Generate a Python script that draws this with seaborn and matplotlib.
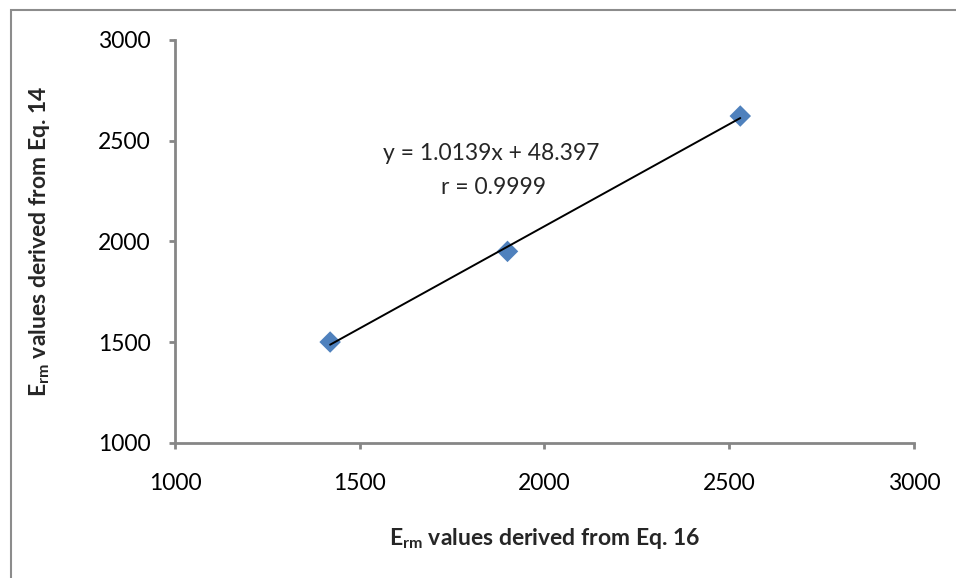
import numpy as np
import matplotlib
matplotlib.use("Agg")
import matplotlib.pyplot as plt
import seaborn as sns
from matplotlib.patches import Rectangle

# DATA
erm_eq16 = [1420, 1900, 2530]
erm_eq14 = [1500, 1950, 2622]
x_ticks = [1000, 1500, 2000, 2500, 3000]
y_ticks = [1000, 1500, 2000, 2500, 3000]
eq_text = "y = 1.0139x + 48.397"
r_text = "r = 0.9999"

sns.set_style("white")
plt.rcParams["font.family"] = ["Lato", "DejaVu Sans"]
plt.rcParams["mathtext.fontset"] = "custom"
plt.rcParams["mathtext.rm"] = "Lato"
plt.rcParams["mathtext.bf"] = "Lato:bold"

axis_gray = "#868686"

fig = plt.figure(figsize=(9.56, 5.78), dpi=100)
ax = fig.add_axes([0.183, 0.234, 0.773, 0.697])

# scatter + linear trendline
sns.regplot(x=erm_eq16, y=erm_eq14, ci=None, marker="D", ax=ax,
            scatter_kws={"s": 120, "color": "#4F81BD", "edgecolors": "none", "alpha": 1},
            line_kws={"color": "black", "linewidth": 1.4})

ax.set_xlim(1000, 3000)
ax.set_ylim(1000, 3000)
ax.set_xticks(x_ticks)
ax.set_yticks(y_ticks)

for side in ["top", "right"]:
    ax.spines[side].set_visible(False)
for side in ["left", "bottom"]:
    ax.spines[side].set_color(axis_gray)
    ax.spines[side].set_linewidth(2)

ax.tick_params(axis="both", bottom=True, left=True, direction="out", length=4.5,
               width=2, color=axis_gray, labelsize=16.5, labelcolor="black")
ax.tick_params(axis="x", pad=17)
ax.tick_params(axis="y", pad=13)

ax.set_xlabel(r"$\mathbf{E}_{\mathbf{rm}}$ values derived from Eq. 16",
              fontsize=16.5, fontweight="bold", labelpad=23)
ax.set_ylabel(r"$\mathbf{E}_{\mathbf{rm}}$ values derived from Eq. 14",
              fontsize=16.5, fontweight="bold", labelpad=33)

# trendline equation
ax.text(1855, 2434, eq_text, fontsize=16.5, ha="center", va="center")
ax.text(1862, 2265, r_text, fontsize=16.5, ha="center", va="center")

# outer chart border (only top and left visible)
fig.patches.append(Rectangle((10.5 / 956, -0.1), 1.2, 1.1 - 10.5 / 578,
                             transform=fig.transFigure, fill=False,
                             edgecolor="#8c8c8c", linewidth=1.5))

plt.savefig("out.png", dpi=100)
plt.close()
